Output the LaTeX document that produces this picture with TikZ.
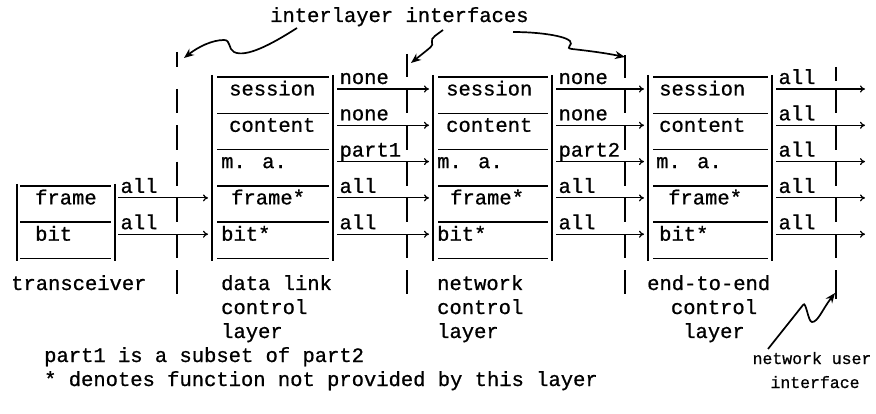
\documentclass[tikz,border=0pt]{standalone}
\usepackage{fontspec}
\setmainfont{Liberation Mono}[FakeBold=0.8]
\usetikzlibrary{arrows.meta}
\begin{document}
\begin{tikzpicture}[x=1pt,y=-1pt,
  font=\fontsize{20.5}{24.5}\selectfont,
  txt/.style={inner sep=0pt,anchor=base west},
  ctxt/.style={inner sep=0pt,anchor=base},
  boxline/.style={line width=1.4pt},
  arr/.style={line width=1.2pt,-{To[length=5pt,width=7pt]}},
  lbl/.style={pos=0,inner sep=0pt,anchor=base west,xshift=2pt,yshift=5pt},
  iface/.style={line width=1.3pt},
  hand/.style={line width=1.7pt,-{Stealth[length=10pt,width=8pt]}}]
\useasboundingbox (0,0) rectangle (876,414);

% ---------- boxes ----------
% transceiver
\draw[boxline] (17,184) -- (17,261) (115,184) -- (115,261);
\foreach \r in {185.9,222.2,258.5} \draw[boxline] (20,\r) -- (111,\r);
\node[txt] (t-frame) at (35,204.4) {frame};
\node[txt] (t-bit) at (35,240.7) {bit};
% data link
\draw[boxline] (212,75) -- (212,261) (333,75) -- (333,261);
\foreach \r in {77,113.3,149.6,185.9,222.2,258.5} \draw[boxline] (217,\r) -- (329,\r);
\node[txt] (dl-s) at (229,95.5) {session};
\node[txt] (dl-c) at (229,131.8) {content};
\node[txt] (dl-m) at (221,168.1) {m. a.};
\node[txt] (dl-f) at (231,204.4) {frame*};
\node[txt] (dl-b) at (221,240.7) {bit*};
% network
\draw[boxline] (433,75) -- (433,261) (552,75) -- (552,261);
\foreach \r in {77,113.3,149.6,185.9,222.2,258.5} \draw[boxline] (438,\r) -- (548,\r);
\node[txt] (nw-s) at (446,95.5) {session};
\node[txt] (nw-c) at (446,131.8) {content};
\node[txt] (nw-m) at (437,168.1) {m. a.};
\node[txt] (nw-f) at (450,204.4) {frame*};
\node[txt] (nw-b) at (437,240.7) {bit*};
% end-to-end
\draw[boxline] (648,75) -- (648,261) (772,75) -- (772,261);
\foreach \r in {77,113.3,149.6,185.9,222.2,258.5} \draw[boxline] (653,\r) -- (768,\r);
\node[txt] (ee-s) at (659,95.5) {session};
\node[txt] (ee-c) at (659,131.8) {content};
\node[txt] (ee-m) at (656,168.1) {m. a.};
\node[txt] (ee-f) at (668,204.4) {frame*};
\node[txt] (ee-b) at (659,240.7) {bit*};

% ---------- interfaces ----------
\foreach \x/\t in {177/52, 407/54, 625/55} {
  \draw[iface] (\x,\t) -- (\x,{\t+(\x==177 ? 15 : 23)});
  \foreach \a/\b in {89/113.3,125.3/149.6,161.6/185.9,197.9/222.2,234.2/258.5,270.5/294}
    \draw[iface] (\x,\a) -- (\x,\b);
}
\draw[iface] (836,67) -- (836,81);
\foreach \a/\b in {89/113.3,125.3/149.6,161.6/185.9,197.9/222.2,234.2/258.5,270.5/299}
  \draw[iface] (836,\a) -- (836,\b);
\coordinate (i1) at (184,58);
\coordinate (i2) at (411,63);
\coordinate (i3) at (625,57);
\coordinate (i4) at (835,293);

% ---------- arrow end points ----------
\foreach \y [count=\k] in {89,125.3,161.6,197.9,234.2} {
  \coordinate (dlo\k) at (337,\y);
  \coordinate (nwi\k) at (429,\y);
  \coordinate (nwo\k) at (556,\y);
  \coordinate (eei\k) at (644,\y);
  \coordinate (eeo\k) at (776,\y);
  \coordinate (out\k) at (865,\y);
}
\coordinate (to1) at (118,197.9);
\coordinate (dli1) at (208,197.9);
\coordinate (to2) at (118,234.2);
\coordinate (dli2) at (208,234.2);

% ---------- arrows ----------
\draw[arr] (to1) -- (dli1) node[lbl] (l-t1) {all};
\draw[arr] (to2) -- (dli2) node[lbl] (l-t2) {all};
\draw[arr] (dlo1) -- (nwi1) node[lbl] (l-d1) {none};
\draw[arr] (dlo2) -- (nwi2) node[lbl] (l-d2) {none};
\draw[arr] (dlo3) -- (nwi3) node[lbl] (l-d3) {part1};
\draw[arr] (dlo4) -- (nwi4) node[lbl] (l-d4) {all};
\draw[arr] (dlo5) -- (nwi5) node[lbl] (l-d5) {all};
\draw[arr] (nwo1) -- (eei1) node[lbl] (l-n1) {none};
\draw[arr] (nwo2) -- (eei2) node[lbl] (l-n2) {none};
\draw[arr] (nwo3) -- (eei3) node[lbl] (l-n3) {part2};
\draw[arr] (nwo4) -- (eei4) node[lbl] (l-n4) {all};
\draw[arr] (nwo5) -- (eei5) node[lbl] (l-n5) {all};
\foreach \k in {1,...,5}
  \draw[arr] (eeo\k) -- (out\k) node[lbl] (l-e\k) {all};

% ---------- labels ----------
\node[txt] (title) at (270,22) {interlayer interfaces};
\node[txt] (lab-t) at (11,290) {transceiver};
\node[txt] (lab-d1) at (221,290) {data link};
\node[txt] (lab-d2) at (221,314) {control};
\node[txt] (lab-d3) at (221,338) {layer};
\node[txt] (lab-n1) at (437,290) {network};
\node[txt] (lab-n2) at (437,314) {control};
\node[txt] (lab-n3) at (437,338) {layer};
\node[txt] (lab-e1) at (647,290) {end-to-end};
\node[ctxt] (lab-e2) at (714,314) {control};
\node[ctxt] (lab-e3) at (714,338) {layer};
\node[txt] (note1) at (44,362) {part1 is a subset of part2};
\node[txt] (note2) at (44,386) {* denotes function not provided by this layer};
\node[ctxt,font=\fontsize{16.5}{24}\selectfont] (nui1) at (812,364) {network user};
\node[ctxt,font=\fontsize{16.5}{24}\selectfont] (nui2) at (815,388) {interface};

% ---------- hand-drawn pointers ----------
\draw[hand] (297,28) .. controls (272,44) and (246,58) .. (234,52)
  .. controls (228,49) and (231,40) .. (224,40)
  .. controls (212,40) and (198,47) .. (i1);
\draw[hand] (443,30) .. controls (438,34) and (430,38) .. (432,42)
  .. controls (434,46) and (428,49) .. (426,51) -- (i2);
\draw[hand] (513,32) .. controls (540,32) and (565,36) .. (570,41)
  .. controls (574,45) and (564,48) .. (572,49)
  .. controls (590,51) and (605,53) .. (i3);
\draw[hand] (768,349) -- (803,305) .. controls (806,300) and (808,322) .. (812,322)
  .. controls (818,322) and (822,310) .. (i4);
\end{tikzpicture}
\end{document}
